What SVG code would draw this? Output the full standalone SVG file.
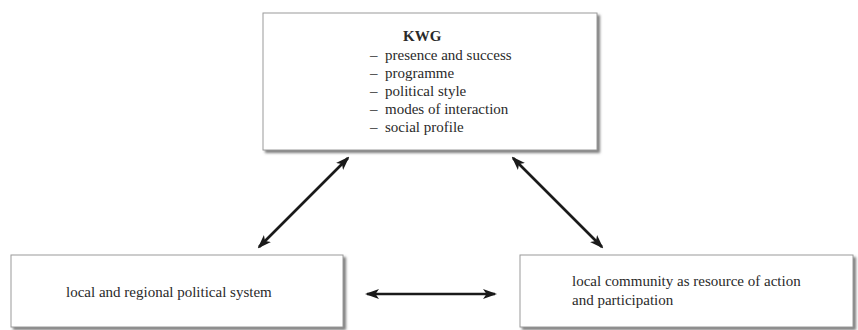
<svg xmlns="http://www.w3.org/2000/svg" width="858" height="330" viewBox="0 0 858 330">
  <style>
    .box { fill: #ffffff; stroke: #9a9a9a; stroke-width: 1; filter: url(#shadow); }
    .txt { font-family: "Liberation Serif", "Times New Roman", serif; font-size: 15px; fill: #2a2a2a; }
    .title { font-weight: bold; }
    .link { stroke: #1a1a1a; stroke-width: 2.6; fill: none; marker-start: url(#head); marker-end: url(#head); }
  </style>
  <defs>
    <filter id="shadow" x="-5%" y="-5%" width="112%" height="120%">
      <feDropShadow dx="2.5" dy="2.5" stdDeviation="1" flood-color="#6f6f6f" flood-opacity="0.9"/>
    </filter>
    <marker id="head" viewBox="0 0 14 10" refX="12" refY="5" markerWidth="14" markerHeight="10" markerUnits="userSpaceOnUse" orient="auto-start-reverse">
      <path d="M0,0 L14,5 L0,10 L3.5,5 Z" fill="#1a1a1a"/>
    </marker>
  </defs>
  <rect width="858" height="330" fill="#ffffff"/>

  <!-- KWG -->
  <g id="kwg">
    <rect class="box" x="263" y="13" width="334" height="137"/>
    <text class="txt title" x="403" y="41">KWG</text>
    <text class="txt" x="370" y="60">–</text>
    <text class="txt" x="385" y="60">presence and success</text>
    <text class="txt" x="370" y="78">–</text>
    <text class="txt" x="385" y="78">programme</text>
    <text class="txt" x="370" y="96">–</text>
    <text class="txt" x="385" y="96">political style</text>
    <text class="txt" x="370" y="114">–</text>
    <text class="txt" x="385" y="114">modes of interaction</text>
    <text class="txt" x="370" y="132">–</text>
    <text class="txt" x="385" y="132">social profile</text>
  </g>

  <!-- political system -->
  <g id="political-system">
    <rect class="box" x="11" y="255" width="332" height="72"/>
    <text class="txt" x="66" y="297">local and regional political system</text>
  </g>

  <!-- community -->
  <g id="community">
    <rect class="box" x="520" y="255" width="333" height="72"/>
    <text class="txt" x="572" y="286">local community as resource of action</text>
    <text class="txt" x="572" y="305">and participation</text>
  </g>

  <!-- connectors -->
  <g id="connectors">
    <line class="link" x1="348" y1="158" x2="259" y2="247"/>
    <line class="link" x1="513" y1="158" x2="602" y2="247"/>
    <line class="link" x1="367" y1="294" x2="495" y2="294"/>
  </g>
</svg>
